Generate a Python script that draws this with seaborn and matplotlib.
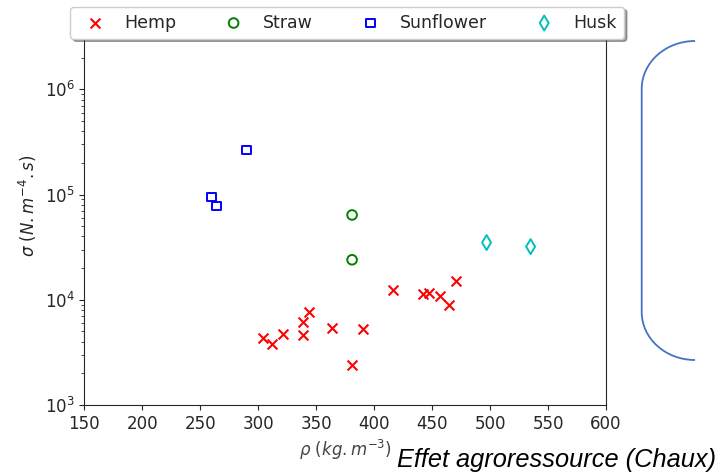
import pandas as pd
import seaborn as sns
import matplotlib.pyplot as plt
from matplotlib.path import Path
from matplotlib.patches import PathPatch

# density (kg/m3) and airflow resistivity (N.m-4.s) per material
hemp_rho = [304, 312, 321, 339, 339, 344, 364, 381, 390, 416, 442, 447, 457, 465, 471]
hemp_sigma = [4.3e3, 3.8e3, 4.7e3, 6.2e3, 4.6e3, 7.7e3, 5.4e3, 2.4e3, 5.3e3,
              1.24e4, 1.14e4, 1.17e4, 1.09e4, 9.0e3, 1.51e4]
straw_rho = [381, 381]
straw_sigma = [6.4e4, 2.4e4]
sunflower_rho = [290, 260, 264]
sunflower_sigma = [2.65e5, 9.5e4, 7.8e4]
husk_rho = [497, 535]
husk_sigma = [3.5e4, 3.2e4]

materials = ["Hemp", "Straw", "Sunflower", "Husk"]
colors = {"Hemp": "red", "Straw": "green", "Sunflower": "blue", "Husk": "c"}
markers = {"Hemp": "x", "Straw": "o", "Sunflower": "s", "Husk": "d"}
sizes = {"Hemp": 50, "Straw": 48, "Sunflower": 40, "Husk": 58}

rows = []
for name, rho, sig in zip(materials,
                          [hemp_rho, straw_rho, sunflower_rho, husk_rho],
                          [hemp_sigma, straw_sigma, sunflower_sigma, husk_sigma]):
    for r, s in zip(rho, sig):
        rows.append({"rho": r, "sigma": s, "material": name})
df = pd.DataFrame(rows)

sns.set_style("ticks")
plt.rcParams["font.family"] = ["DejaVu Sans"]

fig = plt.figure(figsize=(7.19, 4.76), dpi=100)
ax = fig.add_axes([0.1172, 0.1492, 0.7256, 0.835])

for name in materials:
    sub = df[df["material"] == name]
    if markers[name] == "x":
        sns.scatterplot(data=sub, x="rho", y="sigma", marker="x", color=colors[name],
                        s=sizes[name], linewidth=1.5, label=name, legend=False, ax=ax)
    else:
        sns.scatterplot(data=sub, x="rho", y="sigma", marker=markers[name],
                        facecolor="none", edgecolor=colors[name],
                        s=sizes[name], linewidth=1.4, label=name, legend=False, ax=ax)

ax.set_yscale("log")
ax.set_xlim(150, 600)
ax.set_ylim(1e3, 6e6)
ax.set_xticks(range(150, 601, 50))
ax.tick_params(labelsize=12, colors=".15")
ax.set_xlabel(r"$\rho\ (kg.m^{-3})$", fontsize=12, color="#444444")
ax.set_ylabel(r"$\sigma\ (N.m^{-4}.s)$", fontsize=12, color=".15")

leg = ax.legend(loc="lower center", bbox_to_anchor=(0.504, 0.922), ncol=4,
                frameon=True, shadow=True, fancybox=True, fontsize=12.5,
                handletextpad=0.7, columnspacing=2.3, borderaxespad=0)
leg.get_frame().set_edgecolor("#cccccc")

# overlay for the slide annotation (bracket + caption)
over = fig.add_axes([0, 0, 1, 1], zorder=-1)
over.set_xlim(0, 719)
over.set_ylim(476, 0)
over.axis("off")
k = 0.5523
x0, x1 = 695, 641.7
ytop, ybot, ry = 41, 360, 48
rx = x0 - x1
verts = [(x0, ytop), (x0 - k * rx, ytop), (x1, ytop + ry - k * ry), (x1, ytop + ry),
         (x1, ybot - ry),
         (x1, ybot - ry + k * ry), (x0 - k * rx, ybot), (x0, ybot)]
codes = [Path.MOVETO, Path.CURVE4, Path.CURVE4, Path.CURVE4, Path.LINETO,
         Path.CURVE4, Path.CURVE4, Path.CURVE4]
over.add_patch(PathPatch(Path(verts, codes), fill=False, edgecolor="#4472C4", lw=1.3))

fig.text(397 / 719, 9 / 476, "Effet agroressource (Chaux)", fontsize=18.3,
         style="italic", family="Liberation Sans", color="black",
         ha="left", va="baseline")

plt.savefig("out.png", dpi=100)
